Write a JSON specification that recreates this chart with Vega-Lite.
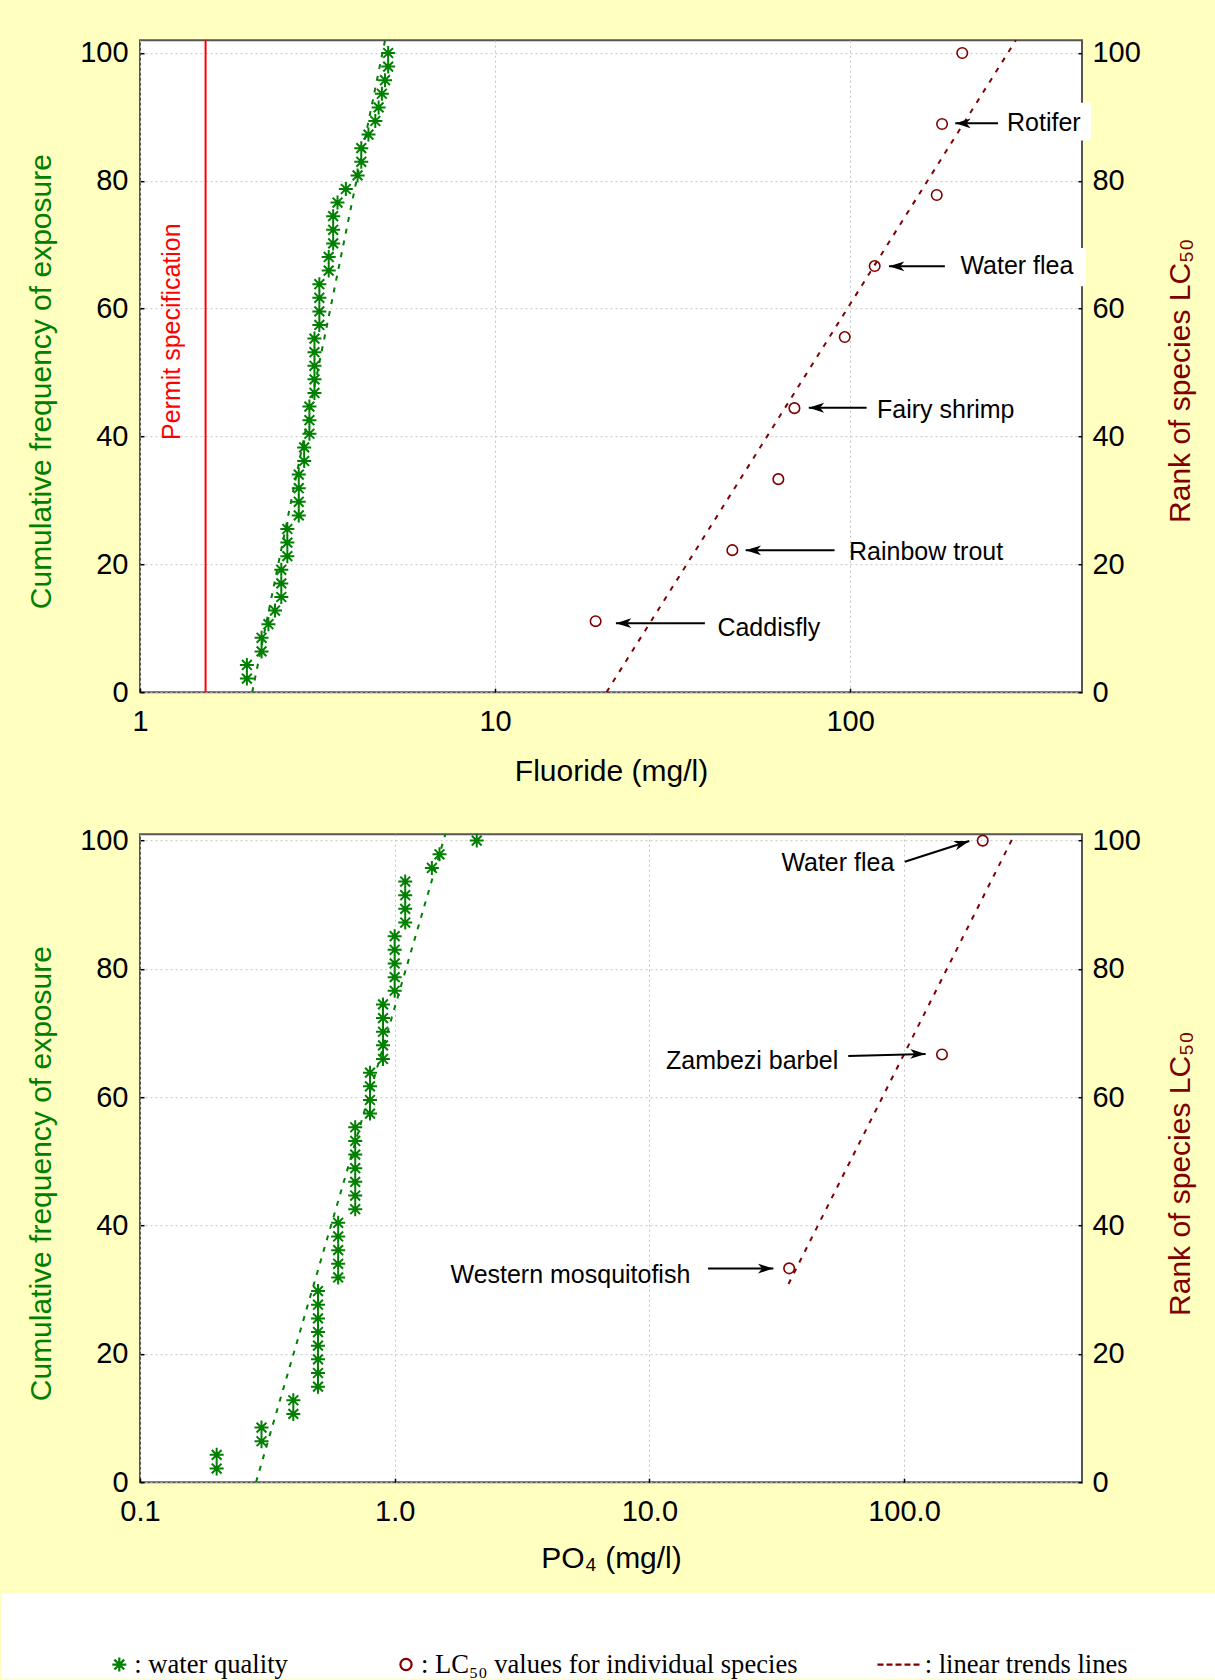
{
  "$schema": "https://vega.github.io/schema/vega-lite/v6.json",
  "background": "#FFFFC0",
  "padding": {"left": 0, "top": 35.2, "right": 0, "bottom": 0},
  "autosize": {"type": "pad"},
  "bounds": "flush",
  "spacing": 142,
  "config": {
    "font": "Liberation Sans",
    "view": {"stroke": "#555555", "strokeWidth": 2, "fill": "white"},
    "axis": {
      "labelFont": "Liberation Sans", "labelFontSize": 29, "labelColor": "black",
      "titleFont": "Liberation Sans", "titleFontSize": 30, "titleFontWeight": "normal",
      "domain": false, "ticks": true, "tickColor": "black", "tickSize": -4, "tickWidth": 1.5,
      "gridColor": "#c4c4c4", "gridDash": [2, 3], "gridWidth": 1
    },
    "text": {"font": "Liberation Sans"}
  },
  "datasets": {
    "annTop": [
      {"t": "Rotifer", "lx": 276.7, "ly": 89.1, "ax": 261, "ay": 89.0, "hx": 197.8, "hy": 89.0},
      {"t": "Water flea", "lx": 204.6, "ly": 66.6, "ax": 184.9, "ay": 66.63, "hx": 128.7, "hy": 66.63},
      {"t": "Fairy shrimp", "lx": 119.1, "ly": 44.2, "ax": 111.3, "ay": 44.5, "hx": 76.5, "hy": 44.5},
      {"t": "Rainbow trout", "lx": 99.3, "ly": 21.9, "ax": 90.4, "ay": 22.2, "hx": 50.8, "hy": 22.2},
      {"t": "Caddisfly", "lx": 42.3, "ly": 9.98, "ax": 39.0, "ay": 10.8, "hx": 21.9, "hy": 10.8}
    ],
    "annBot": [
      {"t": "Water flea", "lx": 33.0, "ly": 96.5, "ax": 100.7, "ay": 96.7, "hx": 180.5, "hy": 99.95},
      {"t": "Zambezi barbel", "lx": 11.63, "ly": 65.6, "ax": 60.4, "ay": 66.44, "hx": 121.6, "hy": 66.75},
      {"t": "Western mosquitofish", "lx": 1.657, "ly": 32.3, "ax": 17.0, "ay": 33.3, "hx": 30.7, "hy": 33.3}
    ]
  },
  "vconcat": [
    {
      "width": 942,
      "height": 652,
      "resolve": {"scale": {"y": "independent"}},
      "layer": [
        {
          "data": {"values": [{"x": 1.53}]},
          "mark": {"type": "rule", "color": "#ff0000", "strokeWidth": 2},
          "encoding": {
            "x": {"field": "x", "type": "quantitative", "scale": {"type": "log", "domain": [1, 450], "nice": false},
              "axis": {"title": "Fluoride (mg/l)", "values": [1, 10, 100], "format": "~g", "grid": true, "labelFlush": false, "labelPadding": 19, "titleX": 471, "titleY": 79, "titleBaseline": "middle", "titleAlign": "center"}}
          }
        },
        {
          "data": {"values": [{"x": 1.232, "y": 56.4, "t": "Permit specification"}]},
          "mark": {"type": "text", "angle": 270, "color": "#ff0000", "fontSize": 25, "align": "center", "baseline": "middle"},
          "encoding": {
            "x": {"field": "x", "type": "quantitative", "scale": {"type": "log", "domain": [1, 450], "nice": false}},
            "y": {"field": "y", "type": "quantitative", "scale": {"domain": [0, 102], "nice": false}, "axis": null},
            "text": {"field": "t"}
          }
        },
        {
          "data": {"values": [{"x": 2.07, "y": 0}, {"x": 4.9, "y": 102}]},
          "mark": {"type": "line", "color": "#008000", "strokeWidth": 2, "strokeDash": [5, 7]},
          "encoding": {
            "x": {"field": "x", "type": "quantitative", "scale": {"type": "log", "domain": [1, 450], "nice": false}},
            "y": {"field": "y", "type": "quantitative", "scale": {"domain": [0, 102], "nice": false}, "axis": null}
          }
        },
        {
          "data": {"values": [{"x": 267.9, "x2": 477, "y": 86.3, "y2": 92.2}, {"x": 197.5, "x2": 461.8, "y": 63.5, "y2": 69.5}]},
          "mark": {"type": "rect", "color": "white"},
          "encoding": {
            "x": {"field": "x", "type": "quantitative", "scale": {"type": "log", "domain": [1, 450], "nice": false}},
            "x2": {"field": "x2"},
            "y": {"field": "y", "type": "quantitative", "scale": {"domain": [0, 102], "nice": false}, "axis": null},
            "y2": {"field": "y2"}
          }
        },
        {
          "data": {"values": [
            {"x": 2.0, "y": 2.13}, {"x": 2.0, "y": 4.26}, {"x": 2.2, "y": 6.38}, {"x": 2.2, "y": 8.51},
            {"x": 2.3, "y": 10.64}, {"x": 2.4, "y": 12.77}, {"x": 2.5, "y": 14.89}, {"x": 2.5, "y": 17.02},
            {"x": 2.5, "y": 19.15}, {"x": 2.6, "y": 21.28}, {"x": 2.6, "y": 23.40}, {"x": 2.6, "y": 25.53},
            {"x": 2.8, "y": 27.66}, {"x": 2.8, "y": 29.79}, {"x": 2.8, "y": 31.91}, {"x": 2.8, "y": 34.04},
            {"x": 2.9, "y": 36.17}, {"x": 2.9, "y": 38.30}, {"x": 3.0, "y": 40.43}, {"x": 3.0, "y": 42.55},
            {"x": 3.0, "y": 44.68}, {"x": 3.1, "y": 46.81}, {"x": 3.1, "y": 48.94}, {"x": 3.1, "y": 51.06},
            {"x": 3.1, "y": 53.19}, {"x": 3.1, "y": 55.32}, {"x": 3.2, "y": 57.45}, {"x": 3.2, "y": 59.57},
            {"x": 3.2, "y": 61.70}, {"x": 3.2, "y": 63.83}, {"x": 3.4, "y": 65.96}, {"x": 3.4, "y": 68.09},
            {"x": 3.5, "y": 70.21}, {"x": 3.5, "y": 72.34}, {"x": 3.5, "y": 74.47}, {"x": 3.6, "y": 76.60},
            {"x": 3.8, "y": 78.72}, {"x": 4.1, "y": 80.85}, {"x": 4.2, "y": 82.98}, {"x": 4.2, "y": 85.11},
            {"x": 4.4, "y": 87.23}, {"x": 4.6, "y": 89.36}, {"x": 4.7, "y": 91.49}, {"x": 4.8, "y": 93.62},
            {"x": 4.9, "y": 95.74}, {"x": 5.0, "y": 97.87}, {"x": 5.0, "y": 100}
          ]},
          "mark": {"type": "point", "shape": "M0,-1L0,1M-1,0L1,0M-0.7,-0.7L0.7,0.7M-0.7,0.7L0.7,-0.7", "filled": false, "color": "#008000", "size": 196, "strokeWidth": 2, "opacity": 1},
          "encoding": {
            "x": {"field": "x", "type": "quantitative", "scale": {"type": "log", "domain": [1, 450], "nice": false}},
            "y": {"field": "y", "type": "quantitative", "scale": {"domain": [0, 102], "nice": false},
              "axis": {"orient": "left", "title": "Cumulative frequency of exposure", "titleColor": "#008000", "values": [0, 20, 40, 60, 80, 100], "grid": true, "labelPadding": 16, "titleX": -98.7, "titleY": 341, "titleAngle": 270, "titleBaseline": "middle", "titleAlign": "center"}}
          }
        },
        {
          "data": {"values": [{"x": 20.6, "y": 0}, {"x": 293, "y": 102}]},
          "mark": {"type": "line", "color": "#800000", "strokeWidth": 2, "strokeDash": [5, 7]},
          "encoding": {
            "x": {"field": "x", "type": "quantitative", "scale": {"type": "log", "domain": [1, 450], "nice": false}},
            "y": {"field": "y", "type": "quantitative", "scale": {"domain": [0, 102], "nice": false}, "axis": null}
          }
        },
        {
          "data": {"values": [
            {"x": 19.2, "y": 11.11}, {"x": 46.6, "y": 22.22}, {"x": 62.8, "y": 33.33}, {"x": 69.7, "y": 44.44},
            {"x": 96.6, "y": 55.56}, {"x": 117.3, "y": 66.67}, {"x": 175.4, "y": 77.78}, {"x": 181.6, "y": 88.89}, {"x": 207, "y": 100}
          ]},
          "mark": {"type": "point", "shape": "circle", "filled": false, "color": "#800000", "size": 110, "strokeWidth": 1.6, "opacity": 1},
          "encoding": {
            "x": {"field": "x", "type": "quantitative", "scale": {"type": "log", "domain": [1, 450], "nice": false}},
            "y": {"field": "y", "type": "quantitative", "scale": {"domain": [0, 102], "nice": false},
              "axis": {"orient": "right", "title": "Rank of species LC₅₀", "titleColor": "#800000", "values": [0, 20, 40, 60, 80, 100], "grid": false, "labelPadding": 14, "titleX": 98.2, "titleY": 340, "titleAngle": 270, "titleBaseline": "middle", "titleAlign": "center"}}
          }
        },
        {
          "data": {"name": "annTop"},
          "mark": {"type": "rule", "color": "black", "strokeWidth": 2},
          "encoding": {
            "x": {"field": "ax", "type": "quantitative", "scale": {"type": "log", "domain": [1, 450], "nice": false}},
            "x2": {"field": "hx"},
            "y": {"field": "ay", "type": "quantitative", "scale": {"domain": [0, 102], "nice": false}, "axis": null},
            "y2": {"field": "hy"}
          }
        },
        {
          "data": {"name": "annTop"},
          "mark": {"type": "point", "shape": "M0,0L-2.2,-0.7L-1.6,0L-2.2,0.7Z", "filled": true, "color": "black", "size": 196, "angle": 180, "opacity": 1},
          "encoding": {
            "x": {"field": "hx", "type": "quantitative", "scale": {"type": "log", "domain": [1, 450], "nice": false}},
            "y": {"field": "hy", "type": "quantitative", "scale": {"domain": [0, 102], "nice": false}, "axis": null}
          }
        },
        {
          "data": {"name": "annTop"},
          "mark": {"type": "text", "align": "left", "baseline": "middle", "fontSize": 25, "color": "black"},
          "encoding": {
            "x": {"field": "lx", "type": "quantitative", "scale": {"type": "log", "domain": [1, 450], "nice": false}},
            "y": {"field": "ly", "type": "quantitative", "scale": {"domain": [0, 102], "nice": false}, "axis": null},
            "text": {"field": "t"}
          }
        }
      ]
    },
    {
      "width": 942,
      "height": 648,
      "resolve": {"scale": {"y": "independent"}},
      "layer": [
        {
          "data": {"values": [{"x": 0.0287, "x2": 1680, "y": -17.35, "y2": -30.6}]},
          "mark": {"type": "rect", "color": "white"},
          "encoding": {
            "x": {"field": "x", "type": "quantitative", "scale": {"type": "log", "domain": [0.1, 500], "nice": false},
              "axis": {"title": "PO₄ (mg/l)", "values": [0.1, 1, 10, 100], "format": ".1f", "grid": true, "labelFlush": false, "labelPadding": 19, "titleX": 471, "titleY": 76, "titleBaseline": "middle", "titleAlign": "center"}},
            "x2": {"field": "x2"},
            "y": {"field": "y", "type": "quantitative", "scale": {"domain": [0, 101], "nice": false}, "axis": null},
            "y2": {"field": "y2"}
          }
        },
        {
          "data": {"values": [{"x": 0.2855, "y": 0}, {"x": 1.581, "y": 101}]},
          "mark": {"type": "line", "color": "#008000", "strokeWidth": 2, "strokeDash": [5, 7]},
          "encoding": {
            "x": {"field": "x", "type": "quantitative", "scale": {"type": "log", "domain": [0.1, 500], "nice": false}},
            "y": {"field": "y", "type": "quantitative", "scale": {"domain": [0, 101], "nice": false}, "axis": null}
          }
        },
        {
          "data": {"values": [
            {"x": 0.2, "y": 2.13}, {"x": 0.2, "y": 4.26}, {"x": 0.3, "y": 6.38}, {"x": 0.3, "y": 8.51},
            {"x": 0.4, "y": 10.64}, {"x": 0.4, "y": 12.77}, {"x": 0.5, "y": 14.89}, {"x": 0.5, "y": 17.02},
            {"x": 0.5, "y": 19.15}, {"x": 0.5, "y": 21.28}, {"x": 0.5, "y": 23.40}, {"x": 0.5, "y": 25.53},
            {"x": 0.5, "y": 27.66}, {"x": 0.5, "y": 29.79}, {"x": 0.6, "y": 31.91}, {"x": 0.6, "y": 34.04},
            {"x": 0.6, "y": 36.17}, {"x": 0.6, "y": 38.30}, {"x": 0.6, "y": 40.43}, {"x": 0.7, "y": 42.55},
            {"x": 0.7, "y": 44.68}, {"x": 0.7, "y": 46.81}, {"x": 0.7, "y": 48.94}, {"x": 0.7, "y": 51.06},
            {"x": 0.7, "y": 53.19}, {"x": 0.7, "y": 55.32}, {"x": 0.8, "y": 57.45}, {"x": 0.8, "y": 59.57},
            {"x": 0.8, "y": 61.70}, {"x": 0.8, "y": 63.83}, {"x": 0.9, "y": 65.96}, {"x": 0.9, "y": 68.09},
            {"x": 0.9, "y": 70.21}, {"x": 0.9, "y": 72.34}, {"x": 0.9, "y": 74.47}, {"x": 1.0, "y": 76.60},
            {"x": 1.0, "y": 78.72}, {"x": 1.0, "y": 80.85}, {"x": 1.0, "y": 82.98}, {"x": 1.0, "y": 85.11},
            {"x": 1.1, "y": 87.23}, {"x": 1.1, "y": 89.36}, {"x": 1.1, "y": 91.49}, {"x": 1.1, "y": 93.62},
            {"x": 1.4, "y": 95.74}, {"x": 1.5, "y": 97.87}, {"x": 2.1, "y": 100}
          ]},
          "mark": {"type": "point", "shape": "M0,-1L0,1M-1,0L1,0M-0.7,-0.7L0.7,0.7M-0.7,0.7L0.7,-0.7", "filled": false, "color": "#008000", "size": 196, "strokeWidth": 2, "opacity": 1},
          "encoding": {
            "x": {"field": "x", "type": "quantitative", "scale": {"type": "log", "domain": [0.1, 500], "nice": false}},
            "y": {"field": "y", "type": "quantitative", "scale": {"domain": [0, 101], "nice": false},
              "axis": {"orient": "left", "title": "Cumulative frequency of exposure", "titleColor": "#008000", "values": [0, 20, 40, 60, 80, 100], "grid": true, "labelPadding": 16, "titleX": -98.7, "titleY": 339, "titleAngle": 270, "titleBaseline": "middle", "titleAlign": "center"}}
          }
        },
        {
          "data": {"values": [{"x": 35.2, "y": 30.9}, {"x": 272, "y": 101}]},
          "mark": {"type": "line", "color": "#800000", "strokeWidth": 2, "strokeDash": [5, 7]},
          "encoding": {
            "x": {"field": "x", "type": "quantitative", "scale": {"type": "log", "domain": [0.1, 500], "nice": false}},
            "y": {"field": "y", "type": "quantitative", "scale": {"domain": [0, 101], "nice": false}, "axis": null}
          }
        },
        {
          "data": {"values": [{"x": 35.4, "y": 33.33}, {"x": 141.0, "y": 66.67}, {"x": 203.8, "y": 100}]},
          "mark": {"type": "point", "shape": "circle", "filled": false, "color": "#800000", "size": 110, "strokeWidth": 1.6, "opacity": 1},
          "encoding": {
            "x": {"field": "x", "type": "quantitative", "scale": {"type": "log", "domain": [0.1, 500], "nice": false}},
            "y": {"field": "y", "type": "quantitative", "scale": {"domain": [0, 101], "nice": false},
              "axis": {"orient": "right", "title": "Rank of species LC₅₀", "titleColor": "#800000", "values": [0, 20, 40, 60, 80, 100], "grid": false, "labelPadding": 14, "titleX": 98.2, "titleY": 339, "titleAngle": 270, "titleBaseline": "middle", "titleAlign": "center"}}
          }
        },
        {
          "data": {"name": "annBot"},
          "mark": {"type": "rule", "color": "black", "strokeWidth": 2},
          "encoding": {
            "x": {"field": "ax", "type": "quantitative", "scale": {"type": "log", "domain": [0.1, 500], "nice": false}},
            "x2": {"field": "hx"},
            "y": {"field": "ay", "type": "quantitative", "scale": {"domain": [0, 101], "nice": false}, "axis": null},
            "y2": {"field": "hy"}
          }
        },
        {
          "data": {"name": "annBot"},
          "transform": [{"filter": "datum.t != 'Water flea'"}],
          "mark": {"type": "point", "shape": "M0,0L-2.2,-0.7L-1.6,0L-2.2,0.7Z", "filled": true, "color": "black", "size": 196, "angle": 0, "opacity": 1},
          "encoding": {
            "x": {"field": "hx", "type": "quantitative", "scale": {"type": "log", "domain": [0.1, 500], "nice": false}},
            "y": {"field": "hy", "type": "quantitative", "scale": {"domain": [0, 101], "nice": false}, "axis": null}
          }
        },
        {
          "data": {"name": "annBot"},
          "transform": [{"filter": "datum.t == 'Water flea'"}],
          "mark": {"type": "point", "shape": "M0,0L-2.2,-0.7L-1.6,0L-2.2,0.7Z", "filled": true, "color": "black", "size": 196, "angle": 342.2, "opacity": 1},
          "encoding": {
            "x": {"field": "hx", "type": "quantitative", "scale": {"type": "log", "domain": [0.1, 500], "nice": false}},
            "y": {"field": "hy", "type": "quantitative", "scale": {"domain": [0, 101], "nice": false}, "axis": null}
          }
        },
        {
          "data": {"name": "annBot"},
          "mark": {"type": "text", "align": "left", "baseline": "middle", "fontSize": 25, "color": "black"},
          "encoding": {
            "x": {"field": "lx", "type": "quantitative", "scale": {"type": "log", "domain": [0.1, 500], "nice": false}},
            "y": {"field": "ly", "type": "quantitative", "scale": {"domain": [0, 101], "nice": false}, "axis": null},
            "text": {"field": "t"}
          }
        },
        {
          "data": {"values": []},
          "mark": {"type": "point", "filled": false, "opacity": 1, "size": 196, "strokeWidth": 2.2},
          "encoding": {
            "x": {"field": "x", "type": "quantitative", "scale": {"type": "log", "domain": [0.1, 500], "nice": false}},
            "y": {"field": "y", "type": "quantitative", "scale": {"domain": [0, 101], "nice": false}, "axis": null},
            "color": {"field": "k", "type": "nominal",
              "scale": {"domain": [": water quality", ": LC₅₀ values for individual species", ": linear trends lines"], "range": ["#008000", "#800000", "#800000"]},
              "legend": {"orient": "none", "legendX": -34, "legendY": 1611, "direction": "horizontal", "columns": 3, "title": null, "padding": 0,
                "labelFont": "Liberation Serif", "labelFontSize": 26.6, "labelColor": "black", "labelLimit": 0, "labelOffset": 1.7,
                "columnPadding": 73.7, "symbolSize": 196, "symbolStrokeWidth": 2.2}},
            "shape": {"field": "k", "type": "nominal",
              "scale": {"domain": [": water quality", ": LC₅₀ values for individual species", ": linear trends lines"],
                "range": [
                  "M0,-1L0,1M-1,0L1,0M-0.7,-0.7L0.7,0.7M-0.7,0.7L0.7,-0.7",
                  "M-5.56,0M0.8,0A0.8,0.8,0,1,1,-0.8,0A0.8,0.8,0,1,1,0.8,0Z",
                  "M-4.6,0L-3.74,0M-3.31,0L-2.46,0M-2.03,0L-1.17,0M-0.74,0L0.11,0M0.54,0L1.4,0"]}}
          }
        }
      ]
    }
  ]
}
